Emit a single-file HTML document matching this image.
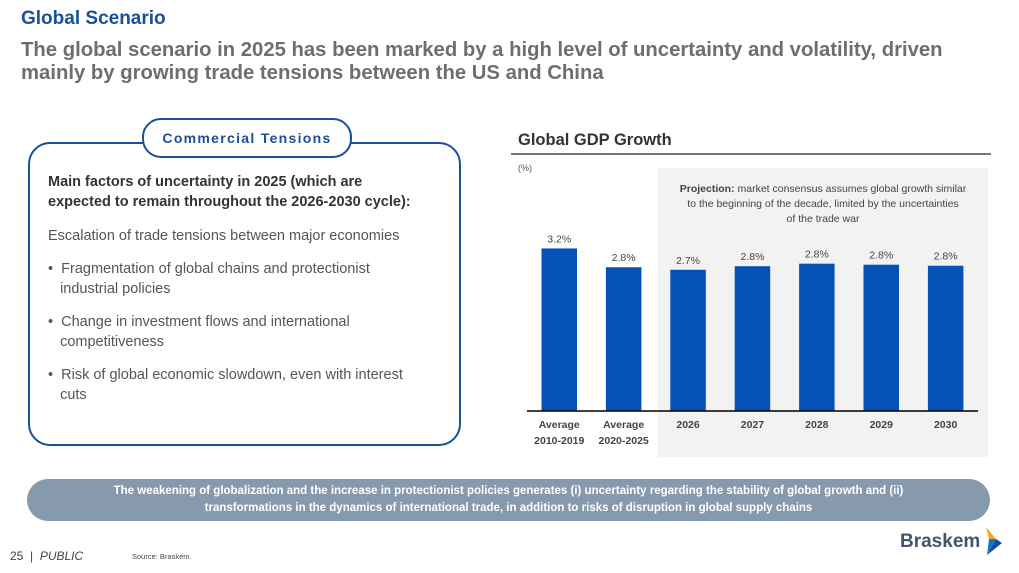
<!DOCTYPE html>
<html><head><meta charset="utf-8"><style>
body{margin:0;width:1019px;height:573px;background:#fff;font-family:"Liberation Sans",sans-serif;position:relative;overflow:hidden}
.a{position:absolute}
.p{margin-top:13px;color:#555}
</style></head><body>
<div class="a" style="left:21px;top:8px;font-size:19px;font-weight:bold;color:#1a4f9c">Global Scenario</div>
<div class="a" style="left:21px;top:39px;font-size:20.3px;font-weight:bold;color:#6e6e6e;line-height:23px;width:990px">The global scenario in 2025 has been marked by a high level of uncertainty and volatility, driven mainly by growing trade tensions between the US and China</div>

<div class="a" style="left:28px;top:142px;width:429px;height:300px;border:2px solid #1a4f9c;border-radius:22px"></div>
<div class="a" style="left:142px;top:118px;width:206px;height:36px;border:2px solid #1a4f9c;border-radius:19px;background:#fff;text-align:center;line-height:36px;font-size:14px;font-weight:bold;letter-spacing:1.3px;color:#1a4f9c">Commercial Tensions</div>
<div class="a" style="left:48px;top:172px;width:410px;font-size:14.5px;color:#333;line-height:20px;white-space:nowrap">
<div style="font-weight:bold">Main factors of uncertainty in 2025 (which are<br>expected to remain throughout the 2026-2030 cycle):</div>
<div class="p" style="margin-top:14px">Escalation of trade tensions between major economies</div>
<div class="p">•&nbsp;&nbsp;Fragmentation of global chains and protectionist<br>&nbsp;&nbsp;&nbsp;industrial policies</div>
<div class="p">•&nbsp;&nbsp;Change in investment flows and international<br>&nbsp;&nbsp;&nbsp;competitiveness</div>
<div class="p">•&nbsp;&nbsp;Risk of global economic slowdown, even with interest<br>&nbsp;&nbsp;&nbsp;cuts</div>
</div>

<div class="a" style="left:518px;top:131px;font-size:16.5px;font-weight:bold;color:#333">Global GDP Growth</div>
<div class="a" style="left:511px;top:153px;width:480px;height:2px;background:#777"></div>
<div class="a" style="left:518px;top:163px;font-size:9px;color:#555">(%)</div>
<div class="a" style="left:658px;top:168px;width:330px;height:289px;background:#f2f2f2"></div>
<div class="a" style="left:658px;top:182px;width:330px;text-align:center;font-size:10.5px;line-height:15px;color:#444;white-space:nowrap"><b>Projection:</b> market consensus assumes global growth similar<br>to the beginning of the decade, limited by the uncertainties<br>of the trade war</div>

<svg class="a" style="left:0;top:0" width="1019" height="573">
<g id="bars"></g>
<line x1="527" y1="411" x2="978" y2="411" stroke="#000" stroke-width="1.5"/>
</svg>

<div class="a" style="left:27px;top:479px;width:963px;height:42px;background:#8799ad;border-radius:21px;color:#fff;font-weight:bold;font-size:11.5px;text-align:center;line-height:17px;display:flex;align-items:center;justify-content:center"><div>The weakening of globalization and the increase in protectionist policies generates (i) uncertainty regarding the stability of global growth and (ii)<br>transformations in the dynamics of international trade, in addition to risks of disruption in global supply chains</div></div>
<div class="a" style="left:10px;top:549px;font-size:12px;color:#444">25 &nbsp;| &nbsp;<i>PUBLIC</i></div>
<div class="a" style="left:132px;top:552px;font-size:7.5px;color:#444">Source: Braskem.</div>
<div class="a" style="left:900px;top:531px;font-size:19px;font-weight:bold;color:#44546a">Braskem</div>
<svg class="a" style="left:984px;top:525px" width="20" height="32"><path d="M2 2 L12 14 L5 14 Z" fill="#f5a623"/><path d="M5 14 L12 14 L3 30 Z" fill="#1a73c9"/><path d="M12 14 L18 18 L3 30 Z" fill="#0b4ea2"/></svg>

<script>
const categories=[["Average","2010-2019"],["Average","2020-2025"],["2026"],["2027"],["2028"],["2029"],["2030"]];
const values=[3.2,2.83,2.78,2.85,2.9,2.88,2.86];
const labels=["3.2%","2.8%","2.7%","2.8%","2.8%","2.8%","2.8%"];
const ns="http://www.w3.org/2000/svg";
const g=document.getElementById('bars');
const base=411,scale=50.8,x0=541.5,step=64.4,bw=35.5;
const y=v=>base-v*scale;
categories.forEach((c,i)=>{
 const x=x0+i*step;
 const r=document.createElementNS(ns,'rect');
 r.setAttribute('x',x);r.setAttribute('y',y(values[i]));r.setAttribute('width',bw);r.setAttribute('height',base-y(values[i]));r.setAttribute('fill','#0452b5');
 
 
 g.appendChild(r);
 const t=document.createElementNS(ns,'text');
 t.setAttribute('x',x+bw/2);t.setAttribute('y',y(values[i])-6);t.setAttribute('text-anchor','middle');t.setAttribute('font-size','10.5');t.setAttribute('fill','#444');t.textContent=labels[i];
 
 
 g.appendChild(t);
 c.forEach((s,j)=>{
  const l=document.createElementNS(ns,'text');
  l.setAttribute('x',x+bw/2);l.setAttribute('y',428+j*16);l.setAttribute('text-anchor','middle');l.setAttribute('font-size','10.5');l.setAttribute('font-weight','bold');l.setAttribute('fill','#444');l.textContent=s;
  
  
  g.appendChild(l);
 });
});
</script>
</body></html>
